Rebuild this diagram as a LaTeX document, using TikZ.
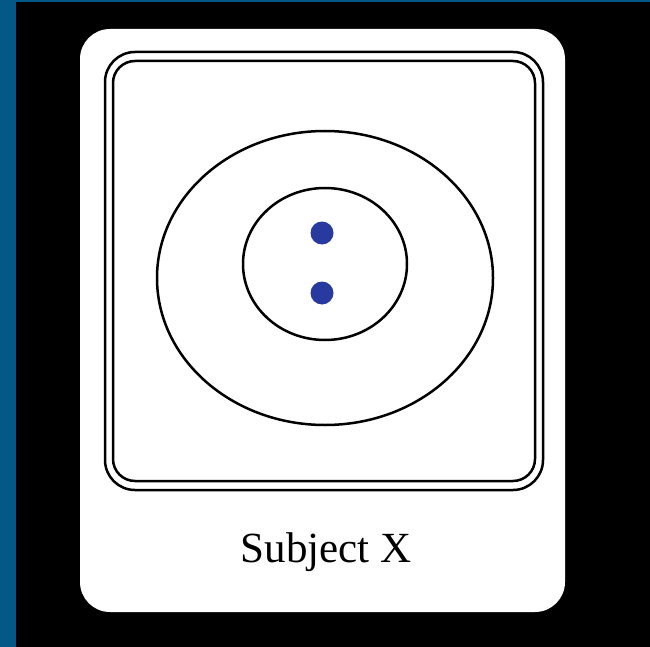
\documentclass[tikz,border=0pt]{standalone}
\usepackage{fontspec}
\setmainfont{Liberation Serif}
\definecolor{edgeblue}{RGB}{4,88,135}
\definecolor{dotblue}{RGB}{40,58,160}
\tikzset{
  frame/.style={draw=black, line width=2.5pt},
  ring/.style={draw=black, line width=2.5pt},
  dot/.style={circle, fill=dotblue, minimum size=23pt, inner sep=0pt},
}
\begin{document}
\begin{tikzpicture}[x=1pt,y=-1pt]
\useasboundingbox (0,0) rectangle (650,647);
\fill[black] (0,0) rectangle (650,647);
\fill[edgeblue] (0,0) rectangle (16,647);
\fill[edgeblue] (0,0) rectangle (650,2.5);
% card
\fill[white, rounded corners=30pt] (80,29) rectangle (565,612);
% double frame
\draw[frame, rounded corners=30pt] (105,52) rectangle (543,490);
\draw[frame, rounded corners=22pt] (113,61) rectangle (535,481);
% rings
\draw[ring] (325,278) ellipse [x radius=168, y radius=147];
\draw[ring] (325,264) ellipse [x radius=82, y radius=76];
% dots
\node[dot] (d1) at (322,233) {};
\node[dot] (d2) at (322,293) {};
% label
\node (lbl) at (326,552) {\fontsize{43}{50}\selectfont Subject X};
\end{tikzpicture}
\end{document}
